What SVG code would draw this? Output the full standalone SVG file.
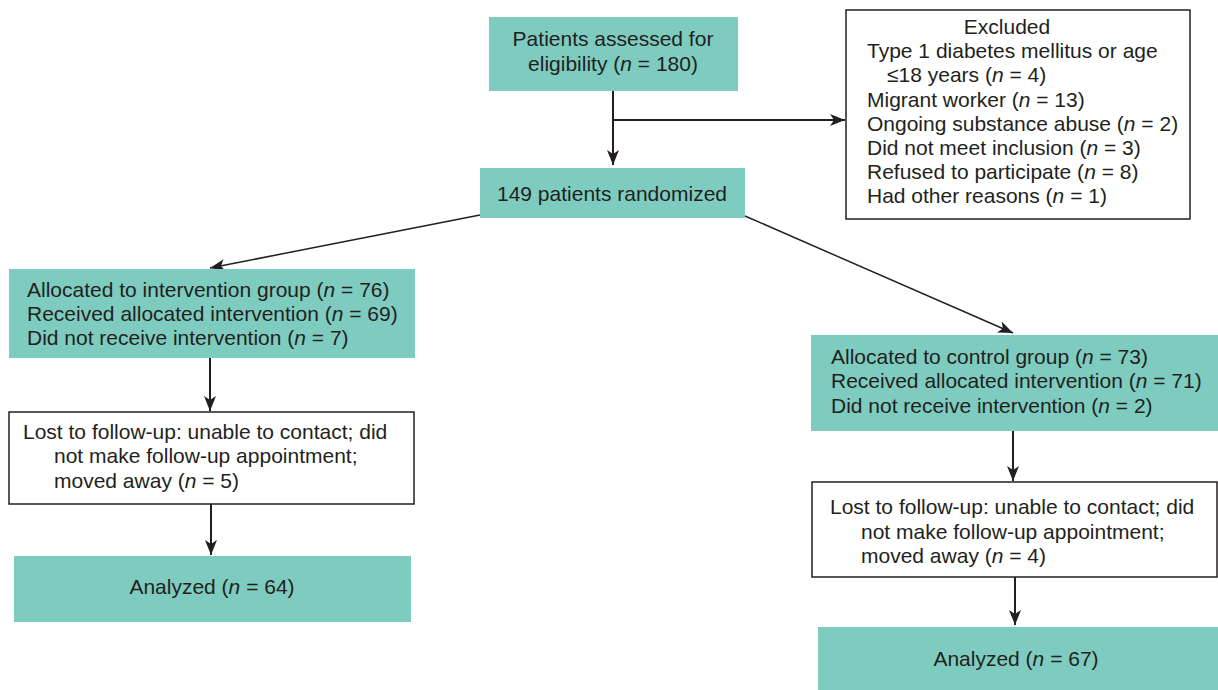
<svg xmlns="http://www.w3.org/2000/svg" width="1218" height="690" viewBox="0 0 1218 690">
<defs>
<style>
.teal{fill:#7dccbf;stroke:none}
.white{fill:#fff;stroke:#231f20;stroke-width:1.5}
text{font-family:"Liberation Sans",Arial,sans-serif;font-size:21px;fill:#231f20}
.c{text-anchor:middle}
.i{font-style:italic}
.ln{stroke:#231f20;stroke-width:2;fill:none}
.dg{stroke:#231f20;stroke-width:1.5;fill:none}
</style>
<marker id="ah" viewBox="0 0 15 12" markerWidth="15" markerHeight="12" refX="15" refY="6" orient="auto" markerUnits="userSpaceOnUse">
<path d="M0,0 L15,6 L0,12 L4,6 z" fill="#231f20"/>
</marker>
</defs>
<rect width="1218" height="690" fill="#fff"/>
<g id="connectors">
<line class="ln" x1="613" y1="91" x2="613" y2="165" marker-end="url(#ah)"/>
<line class="ln" x1="613" y1="120" x2="845" y2="120" marker-end="url(#ah)"/>
<line class="dg" x1="480" y1="215" x2="210" y2="268" marker-end="url(#ah)"/>
<line class="dg" x1="745" y1="216" x2="1013" y2="333" marker-end="url(#ah)"/>
<line class="ln" x1="210" y1="358" x2="210" y2="411" marker-end="url(#ah)"/>
<line class="ln" x1="211" y1="504" x2="211" y2="555" marker-end="url(#ah)"/>
<line class="ln" x1="1013" y1="431" x2="1013" y2="481" marker-end="url(#ah)"/>
<line class="ln" x1="1015" y1="577" x2="1015" y2="625" marker-end="url(#ah)"/>
</g>
<g id="assessed">
<rect class="teal" x="489" y="17" width="249" height="74"/>
<text class="c" x="613" y="46">Patients assessed for</text>
<text class="c" x="613" y="71">eligibility (<tspan class="i">n</tspan> = 180)</text>
</g>
<g id="excluded">
<rect class="white" x="846" y="10" width="344" height="209"/>
<text class="c" x="1007" y="34">Excluded</text>
<text x="867" y="58">Type 1 diabetes mellitus or age</text>
<text x="887" y="82">≤18 years (<tspan class="i">n</tspan> = 4)</text>
<text x="867" y="107">Migrant worker (<tspan class="i">n</tspan> = 13)</text>
<text x="867" y="131">Ongoing substance abuse (<tspan class="i">n</tspan> = 2)</text>
<text x="867" y="155">Did not meet inclusion (<tspan class="i">n</tspan> = 3)</text>
<text x="867" y="179">Refused to participate (<tspan class="i">n</tspan> = 8)</text>
<text x="867" y="203">Had other reasons (<tspan class="i">n</tspan> = 1)</text>
</g>
<g id="randomized">
<rect class="teal" x="480" y="168" width="265" height="50"/>
<text class="c" x="612" y="201">149 patients randomized</text>
</g>
<g id="intervention">
<rect class="teal" x="9" y="269" width="406" height="89"/>
<text x="27" y="297">Allocated to intervention group (<tspan class="i">n</tspan> = 76)</text>
<text x="27" y="321">Received allocated intervention (<tspan class="i">n</tspan> = 69)</text>
<text x="27" y="345">Did not receive intervention (<tspan class="i">n</tspan> = 7)</text>
</g>
<g id="control">
<rect class="teal" x="811" y="335" width="407" height="96"/>
<text x="831" y="364">Allocated to control group (<tspan class="i">n</tspan> = 73)</text>
<text x="831" y="388">Received allocated intervention (<tspan class="i">n</tspan> = 71)</text>
<text x="831" y="413">Did not receive intervention (<tspan class="i">n</tspan> = 2)</text>
</g>
<g id="lost-left">
<rect class="white" x="9" y="412" width="405" height="92"/>
<text x="23" y="439">Lost to follow-up: unable to contact; did</text>
<text x="54" y="463">not make follow-up appointment;</text>
<text x="54" y="488">moved away (<tspan class="i">n</tspan> = 5)</text>
</g>
<g id="lost-right">
<rect class="white" x="812" y="482" width="405" height="95"/>
<text x="830" y="514">Lost to follow-up: unable to contact; did</text>
<text x="861" y="539">not make follow-up appointment;</text>
<text x="861" y="563">moved away (<tspan class="i">n</tspan> = 4)</text>
</g>
<g id="analyzed-left">
<rect class="teal" x="14" y="556" width="397" height="66"/>
<text class="c" x="212" y="594">Analyzed (<tspan class="i">n</tspan> = 64)</text>
</g>
<g id="analyzed-right">
<rect class="teal" x="818" y="627" width="400" height="63"/>
<text class="c" x="1016" y="666">Analyzed (<tspan class="i">n</tspan> = 67)</text>
</g>
</svg>
